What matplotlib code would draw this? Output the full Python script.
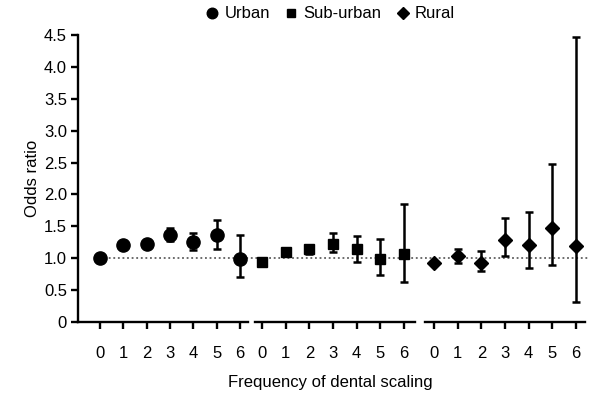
import matplotlib
matplotlib.use("Agg")
import matplotlib.pyplot as plt
from matplotlib.lines import Line2D

plt.rcParams['font.family'] = ['Liberation Sans', 'DejaVu Sans']

freq = [0, 1, 2, 3, 4, 5, 6]
tick_labels = ["0", "1", "2", "3", "4", "5", "6"]

urban_or = [1.00, 1.21, 1.22, 1.36, 1.25, 1.36, 0.99]
urban_lo = [1.00, 1.17, 1.18, 1.27, 1.13, 1.15, 0.71]
urban_hi = [1.00, 1.25, 1.26, 1.48, 1.40, 1.60, 1.37]

sub_or = [0.94, 1.09, 1.14, 1.23, 1.14, 0.98, 1.07]
sub_lo = [0.94, 1.05, 1.07, 1.10, 0.94, 0.74, 0.63]
sub_hi = [0.94, 1.13, 1.20, 1.39, 1.35, 1.30, 1.85]

rural_or = [0.92, 1.03, 0.92, 1.29, 1.20, 1.48, 1.19]
rural_lo = [0.90, 0.92, 0.80, 1.04, 0.84, 0.90, 0.31]
rural_hi = [0.95, 1.15, 1.12, 1.63, 1.73, 2.48, 4.47]

groups = ["Urban", "Sub-urban", "Rural"]
markers = ["o", "s", "D"]
msizes = [9.5, 7.5, 7.5]
yticks = [0, 0.5, 1.0, 1.5, 2.0, 2.5, 3.0, 3.5, 4.0, 4.5]
ytick_labels = ["0", "0.5", "1.0", "1.5", "2.0", "2.5", "3.0", "3.5", "4.0", "4.5"]

W, H = 603, 395
fig = plt.figure(figsize=(W / 100, H / 100), dpi=100)

y_bottom = 322
y_top = 35
bot = (H - y_bottom) / H
hgt = (y_bottom - y_top) / H

# panel pixel extents: (left px, right px, xlim lo, xlim hi)
panels = [(78, 248, -0.94, 6.34), (255, 415, -0.30, 6.47), (425, 585, -0.38, 6.38)]

# overlay for the reference line
ov = fig.add_axes([95 / W, bot, (590 - 95) / W, hgt])
ov.set_ylim(0, 4.5)
ov.axhline(1.0, color='#444444', lw=1.1, ls=(0, (1.2, 1.8)))
ov.axis('off')

data = [(urban_or, urban_lo, urban_hi), (sub_or, sub_lo, sub_hi), (rural_or, rural_lo, rural_hi)]
for i, ((l, r, x0, x1), (orv, lo, hi)) in enumerate(zip(panels, data)):
    ax = fig.add_axes([l / W, bot, (r - l) / W, hgt])
    ax.patch.set_alpha(0)
    yerr = [[o - a for o, a in zip(orv, lo)], [b - o for o, b in zip(orv, hi)]]
    ax.errorbar(freq, orv, yerr=yerr, fmt=markers[i], color='black', ms=msizes[i],
                ecolor='black', elinewidth=1.8, capsize=3.2, capthick=1.8)
    ax.set_xlim(x0, x1)
    ax.set_ylim(0, 4.5)
    ax.set_xticks(freq)
    ax.set_xticklabels(tick_labels, fontsize=12)
    for s in ['top', 'right']:
        ax.spines[s].set_visible(False)
    ax.spines['bottom'].set_linewidth(1.7)
    ax.spines['left'].set_linewidth(1.7)
    ax.tick_params(axis='x', length=5, width=1.7, pad=12)
    if i == 0:
        ax.set_yticks(yticks)
        ax.set_yticklabels(ytick_labels, fontsize=12)
        ax.tick_params(axis='y', length=5, width=1.7, pad=3)
        ax.set_ylabel("Odds ratio", fontsize=12, labelpad=3)
    else:
        ax.spines['left'].set_visible(False)
        ax.set_yticks([])

fig.text(330 / W, (H - 382) / H, "Frequency of dental scaling", ha='center', va='center', fontsize=12)

handles = [Line2D([], [], marker=m, color='black', ls='none', ms=s * 0.8) for m, s in zip(markers, msizes)]
fig.legend(handles, groups, loc='center', bbox_to_anchor=(330 / W, (H - 14) / H), ncol=3,
           frameon=False, fontsize=12, handletextpad=0.3, columnspacing=0.8, handlelength=0.9)

fig.savefig("out.png", dpi=100)
